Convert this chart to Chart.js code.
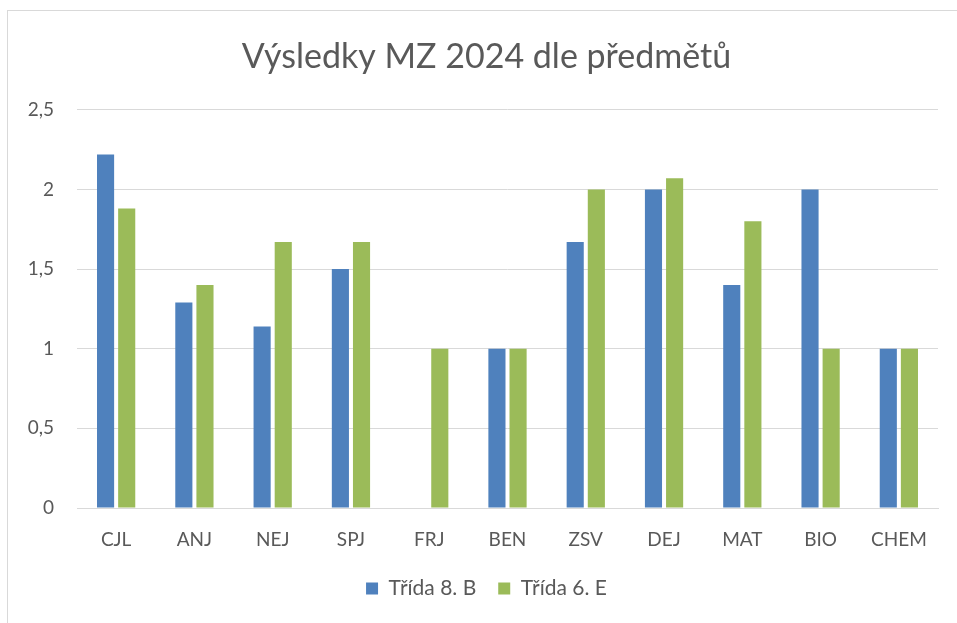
<!DOCTYPE html>
<html>
<head>
<meta charset="utf-8">
<script src="https://cdn.jsdelivr.net/npm/chart.js@4/dist/chart.umd.min.js"></script>
<style>
  html, body { margin: 0; padding: 0; background: #ffffff; overflow: hidden; }
  #wrap { position: absolute; left: 0; top: 0; width: 957px; height: 623px; }
  #frame { position: absolute; left: 7px; top: 10px; width: 980px; height: 640px; border: 1px solid #d9d9d9; box-sizing: border-box; }
  canvas { position: absolute; left: 0; top: 0; }
</style>
</head>
<body>
<div id="wrap">
  <div id="frame"></div>
  <canvas id="c" width="957" height="623"></canvas>
</div>
<script>
const chartTitle = "Výsledky MZ 2024 dle předmětů";
const categories = ["CJL", "ANJ", "NEJ", "SPJ", "FRJ", "BEN", "ZSV", "DEJ", "MAT", "BIO", "CHEM"];
const seriesNames = ["Třída 8. B", "Třída 6. E"];
const class8B = [2.22, 1.29, 1.14, 1.5, 0, 1, 1.67, 2, 1.4, 2, 1];
const class6E = [1.88, 1.4, 1.67, 1.67, 1, 1, 2, 2.07, 1.8, 1, 1];
const yTicks = [0, 0.5, 1, 1.5, 2, 2.5];

const FONT = "Lato, 'Open Sans', sans-serif";
const TEXT = "#595959";
const GRID = "#d9d9d9";

new Chart(document.getElementById("c"), {
  type: "bar",
  data: {
    labels: categories,
    datasets: [
      { label: seriesNames[0], data: class8B, backgroundColor: "#4f81bd", borderWidth: 0, yAxisID: "y" },
      { label: seriesNames[1], data: class6E, backgroundColor: "#9bbb59", borderWidth: 0, yAxisID: "y" }
    ]
  },
  options: {
    responsive: false,
    animation: false,
    events: [],
    layout: { padding: { left: 8, right: -8, top: 0, bottom: 14 } },
    datasets: { bar: { categoryPercentage: 0.54, barPercentage: 0.81 } },
    plugins: {
      title: {
        display: true,
        text: chartTitle,
        color: TEXT,
        font: { family: FONT, size: 34, weight: "normal" },
        padding: { top: 37, bottom: 32 }
      },
      legend: {
        position: "bottom",
        labels: {
          color: TEXT,
          font: { family: FONT, size: 21 },
          boxWidth: 12,
          boxHeight: 12,
          padding: 22
        }
      },
      tooltip: { enabled: false }
    },
    scales: {
      x: {
        grid: { display: false, drawTicks: false },
        border: { display: true, color: GRID, width: 1 },
        ticks: { color: TEXT, font: { family: FONT, size: 19 }, padding: 20, maxRotation: 0 },
        afterFit: (s) => { s.height = 48; }
      },
      y: {
        position: "left",
        min: 0, max: 2.5,
        afterBuildTicks: (s) => { s.ticks = yTicks.map(v => ({ value: v })); },
        grid: { color: GRID, lineWidth: 1, drawTicks: false },
        border: { display: false },
        ticks: {
          color: TEXT,
          font: { family: FONT, size: 19 },
          padding: 23,
          callback: (v) => String(v).replace(".", ",")
        },
        afterFit: (s) => { s.width = 69; }
      },
      yRight: {
        position: "right",
        display: true,
        grid: { display: false, drawTicks: false },
        border: { display: false },
        ticks: { display: false },
        afterFit: (s) => { s.width = 27; }
      }
    }
  }
});
</script>
</body>
</html>
